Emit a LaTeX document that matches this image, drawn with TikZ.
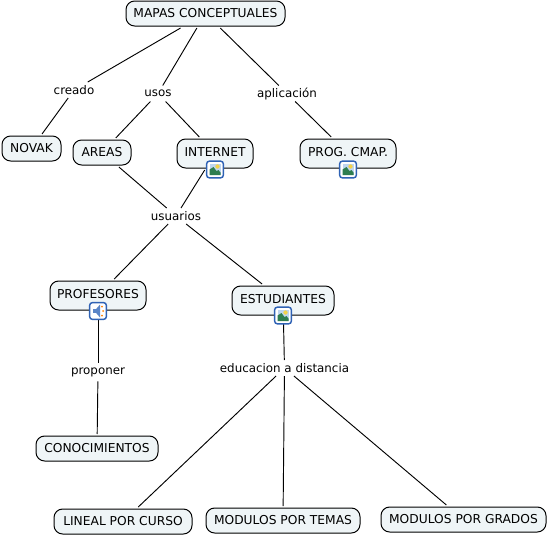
\documentclass[tikz,border=0pt]{standalone}
\usepackage{fontspec}
\setmainfont{DejaVu Sans}
\definecolor{boxfill}{HTML}{EFF5F7}
\definecolor{iconblue}{HTML}{2F62B5}
\definecolor{sky}{HTML}{BFD6F0}
\definecolor{hill}{HTML}{2E7D4F}
\definecolor{sunc}{HTML}{F2D24B}
\tikzset{
  concept/.style={draw=black,line width=0.75pt,fill=boxfill,rounded corners=6.5,inner sep=0pt,outer sep=1.5pt,font=\fontsize{9.2}{11}\selectfont},
  linktext/.style={inner sep=0pt,outer sep=0pt,font=\fontsize{8.9}{11}\selectfont},
  conn/.style={draw=black,line width=0.7pt},
  iconbox/.style={draw=iconblue,line width=1.1pt,fill=white,rounded corners=2,minimum width=12.5pt,minimum height=12.5pt,inner sep=0pt},
  imgicon/.pic={
    \node[iconbox] (-box) at (0,0) {};
    \fill[sky] (-5.5,-5.5) rectangle (5.5,5.5);
    \fill[sunc] (2.5,-3) circle (2.2);
    \fill[hill] (-5.5,5.5) -- (-5.5,0) -- (-1.5,-2.5) -- (1.5,1.5) -- (3.5,0.5) -- (5.5,3) -- (5.5,5.5) -- cycle;
  },
  sndicon/.pic={
    \node[iconbox] (-box) at (0,0) {};
    \fill[iconblue!70!sky] (-5,-1.8) -- (-2,-1.8) -- (2,-6.5) -- (2,6.5) -- (-2,1.8) -- (-5,1.8) -- cycle;
    \fill[orange] (4,-4.5) circle (1) (5.2,0) circle (1) (4,4.5) circle (1);
  }
}
\begin{document}
\begin{tikzpicture}[x=0.75pt,y=-0.75pt]
\useasboundingbox[fill=white] (0,0) rectangle (547,536);
\node[concept,minimum width=119.25pt,minimum height=18.75pt] (mapas) at (205.5,13.5) {MAPAS CONCEPTUALES};
\node[concept,minimum width=44.25pt,minimum height=18.75pt] (novak) at (31.5,148.5) {NOVAK};
\node[concept,minimum width=43.5pt,minimum height=18.75pt] (areas) at (102,152.5) {AREAS};
\node[concept,minimum width=57pt,minimum height=21.75pt] (internet) at (215,153.5) {\raisebox{2.5pt}{INTERNET}};
\node[concept,minimum width=72pt,minimum height=21.75pt] (prog) at (348,153.5) {\raisebox{2.5pt}{PROG. CMAP.}};
\node[concept,minimum width=72pt,minimum height=21.75pt] (prof) at (98,295.5) {\raisebox{2.5pt}{PROFESORES}};
\node[concept,minimum width=76.5pt,minimum height=21.75pt] (est) at (283,300.5) {\raisebox{2.5pt}{ESTUDIANTES}};
\node[concept,minimum width=91.5pt,minimum height=18.75pt] (cono) at (97,448.5) {CONOCIMIENTOS};
\node[concept,minimum width=103.5pt,minimum height=18.75pt] (lineal) at (123,521.5) {LINEAL POR CURSO};
\node[concept,minimum width=115.5pt,minimum height=18.75pt] (temas) at (283,520.5) {MODULOS POR TEMAS};
\node[concept,minimum width=123.75pt,minimum height=18.75pt] (grados) at (463.5,519.5) {MODULOS POR GRADOS};
\node[linktext,minimum width=33pt,minimum height=12pt] (creado) at (74,90) {creado};
\node[linktext,minimum width=24pt,minimum height=12pt] (usos) at (158,93.5) {usos};
\node[linktext,minimum width=52pt,minimum height=12pt] (aplic) at (287,93.5) {aplicación};
\node[linktext,minimum width=40pt,minimum height=12pt] (usuarios) at (176,216) {usuarios};
\node[linktext,minimum width=44pt,minimum height=14pt] (prop) at (98,372) {proponer};
\node[linktext,minimum width=98pt,minimum height=12pt] (educ) at (284.5,368) {educacion a distancia};
\foreach \a/\b in {mapas/creado,mapas/usos,mapas/aplic,creado/novak,usos/areas,usos/internet,aplic/prog,areas/usuarios,internet/usuarios,usuarios/prof,usuarios/est,prof/prop,prop/cono,est/educ,educ/lineal,educ/temas,educ/grados}
  \draw[conn] (\a) -- (\b);
\pic (i1) at (215,169.5) {imgicon};
\pic (i2) at (348,169.5) {imgicon};
\pic (i3) at (283,315.5) {imgicon};
\pic (i4) at (98,311) {sndicon};
\end{tikzpicture}
\end{document}
